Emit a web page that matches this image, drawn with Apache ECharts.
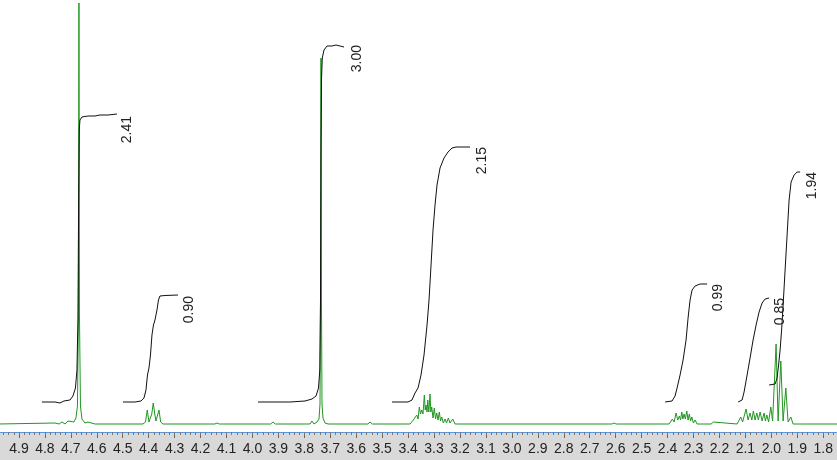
<!DOCTYPE html>
<html><head><meta charset="utf-8">
<script src="https://cdn.jsdelivr.net/npm/echarts@6/dist/echarts.min.js"></script>
<style>html,body{margin:0;padding:0;background:#fff}#c{width:837px;height:460px}</style>
</head><body><div id="c"></div>
<script>
const tickLabels = [4.9,4.8,4.7,4.6,4.5,4.4,4.3,4.2,4.1,4.0,3.9,3.8,3.7,3.6,3.5,3.4,3.3,3.2,3.1,3.0,2.9,2.8,2.7,2.6,2.5,2.4,2.3,2.2,2.1,2.0,1.9,1.8];

const spectrum = [
 [4.98,0],[4.7612,1],[4.745,0],[4.7342,2],[4.722,0],[4.7111,3],[4.7034,1],
 [4.688,2],[4.6803,6],[4.6745,18],[4.6706,110],[4.6687,421],[4.6668,110],[4.6629,18],[4.6571,5],[4.6456,1],[4.634,2],[4.607,0],
 [4.422,0],[4.4123,2],[4.4054,14],[4.3988,2],[4.393,3],[4.3881,10],[4.3823,21],[4.3765,10],[4.3719,3],[4.3668,5],[4.3603,14],[4.3537,2],[4.3449,0],
 [4.145,0],[4.1367,1],[4.128,0],
 [3.93,0],[3.9208,2],[3.912,0],
 [3.7782,0],[3.7705,3],[3.7628,0],[3.7512,2],[3.7435,5],[3.7396,20],[3.7377,120],[3.7358,366],[3.7339,120],[3.7319,20],[3.7281,6],[3.7204,1],[3.7088,0],
 [3.555,0],[3.5469,2],[3.538,0],
 [3.3927,0],[3.3799,4],[3.3734,2],[3.3668,9],[3.3618,5],[3.3568,17],[3.3522,10],[3.3476,14],[3.3426,10],[3.3375,29],[3.3341,14],[3.331,19],[3.3271,12],[3.3244,24],[3.3202,12],[3.3156,30],[3.3125,12],[3.309,17],[3.304,6],[3.299,16],[3.2944,5],[3.2897,11],[3.2847,4],[3.2797,12],[3.2751,3],[3.2705,7],[3.2643,1],[3.2577,5],[3.252,1],[3.245,6],[3.2385,1],[3.2281,5],[3.2192,0],
 [2.615,0],[2.6062,1],[2.598,0],
 [2.3942,0],[2.3815,5],[2.375,2],[2.3672,11],[2.3607,4],[2.3545,8],[2.3499,4],[2.3453,12],[2.341,5],[2.3364,10],[2.3314,5],[2.326,13],[2.321,4],[2.316,10],[2.3113,3],[2.3067,7],[2.3005,1],[2.294,4],[2.2863,0],
 [2.2323,0],[2.2234,2],[2.2169,0],
 [2.1321,0],[2.1178,7],[2.1109,2],[2.0974,15],[2.0897,4],[2.082,11],[2.0754,4],[2.0692,13],[2.0627,4],[2.0561,11],[2.05,4],[2.0434,12],[2.0357,3],[2.028,11],[2.023,3],[2.0176,9],[2.0106,2],[2.0022,17],[1.9952,3],
 [1.9817,80],[1.974,3],[1.9636,63],[1.9547,3],[1.9443,36],[1.9355,2],[1.925,7],[1.9162,0],
 [1.885,0],[1.878,1],[1.87,0],[1.747,0]
];

const integral1 = [[4.8113,22],[4.7612,22],[4.7419,21],[4.7265,23],[4.7034,24],[4.6918,28],[4.6822,36],[4.6764,54],[4.6726,104],[4.6699,224],[4.6675,294],[4.6648,304],[4.6571,307],[4.634,308],[4.607,308],[4.5877,309],[4.5569,309],[4.5222,310]];
const integral2 = [[4.4991,22],[4.4528,22],[4.4297,23],[4.4181,26],[4.4104,34],[4.4046,49],[4.3988,56],[4.393,69],[4.3873,89],[4.3815,99],[4.3757,104],[4.368,114],[4.3622,124],[4.3564,128],[4.3372,128.5],[4.287,129]];
const integral3 = [[3.9786,22],[3.8553,22],[3.7974,23],[3.7705,25],[3.755,28],[3.7454,36],[3.7404,54],[3.7377,124],[3.7358,274],[3.7339,344],[3.7308,366],[3.7242,374],[3.7126,378],[3.6934,378],[3.6779,379],[3.6625,378],[3.6548,380],[3.6471,377]];
const integral4 = [[3.4621,22],[3.4004,22],[3.385,24],[3.3734,31],[3.3618,36],[3.3503,49],[3.3387,69],[3.3271,99],[3.3194,124],[3.3117,159],[3.304,194],[3.2963,219],[3.2886,239],[3.277,256],[3.2616,266],[3.2462,272],[3.2308,276],[3.2153,277],[3.1614,277]];
const integral5 = [[2.4096,22],[2.3827,23],[2.3711,28],[2.3634,36],[2.3518,49],[2.3402,64],[2.3287,84],[2.321,106],[2.3133,124],[2.3056,134],[2.294,138],[2.2747,140],[2.2477,140]];
const integral6 = [[2.1282,22],[2.1128,24],[2.1051,32],[2.0935,49],[2.082,66],[2.0704,84],[2.0588,99],[2.0473,112],[2.0357,121],[2.0241,125],[2.0087,126]];
const integral7 = [[2.0087,39],[1.9856,40],[1.9779,46],[1.9721,59],[1.9663,74],[1.9605,94],[1.9547,119],[1.947,154],[1.9393,189],[1.9316,224],[1.9239,242],[1.9123,249],[1.9008,252],[1.8892,252]];

const integralLabels = ['2.41','0.90','3.00','2.15','0.99','0.85','1.94'];
const labelAnchors = [[4.4837,308],[4.2446,128],[3.597,379],[3.1151,277],[2.2053,140],[1.9663,126],[1.8429,252]];

const X_MIN = 1.747, X_MAX = 4.973;
const minorTicks = [];
for (let v = 1.76; v < 4.97; v += 0.02) minorTicks.push(Math.round(v*100)/100);

const chart = echarts.init(document.getElementById('c'), null, {renderer:'canvas'});
const FONT = '"Liberation Sans", Arial, sans-serif';
const integrals = [integral1,integral2,integral3,integral4,integral5,integral6,integral7];

const option = {
  animation: false,
  backgroundColor: '#ffffff',
  grid: {left: 0, right: 0, top: 0, bottom: 28, containLabel: false},
  xAxis: [{
    type: 'value', inverse: true, min: X_MIN, max: X_MAX, position: 'bottom',
    axisLine: {show: true, onZero: false, lineStyle: {color: '#5b95e0', width: 1}},
    axisTick: {show: true, customValues: tickLabels, length: 6, lineStyle: {color: '#666'}},
    axisLabel: {show: true, customValues: tickLabels, margin: 10, color: '#222', fontSize: 14, fontFamily: FONT,
      formatter: v => Number(v).toFixed(1)},
    splitLine: {show: false}
  },{
    type: 'value', inverse: true, min: X_MIN, max: X_MAX, position: 'bottom',
    axisLine: {show: false, onZero: false},
    axisTick: {show: true, customValues: minorTicks, length: 3, lineStyle: {color: '#777'}},
    axisLabel: {show: false},
    splitLine: {show: false}
  }],
  yAxis: {type: 'value', min: -8, max: 424, show: false},
  series: [
    {type: 'line', data: spectrum, showSymbol: false, symbol: 'none', lineStyle: {color: '#1f961f', width: 1}, z: 2},
    ...integrals.map(d => ({type: 'line', data: d, showSymbol: false, symbol: 'none', lineStyle: {color: '#111', width: 1}, z: 3}))
  ]
};
chart.setOption(option);

const texts = labelAnchors.map((a, i) => {
  const p = chart.convertToPixel({xAxisIndex: 0, yAxisIndex: 0}, a);
  return {type: 'text', x: p[0], y: p[1], rotation: Math.PI/2, z: 5,
    style: {text: integralLabels[i], fill: '#222', font: '14px ' + FONT, align: 'right', verticalAlign: 'middle'}};
});
chart.setOption({graphic: {elements: [
  {type: 'rect', z: -10, silent: true, shape: {x: 0, y: 432, width: 837, height: 28}, style: {fill: '#d9d9d9'}},
  ...texts
]}});
</script></body></html>
